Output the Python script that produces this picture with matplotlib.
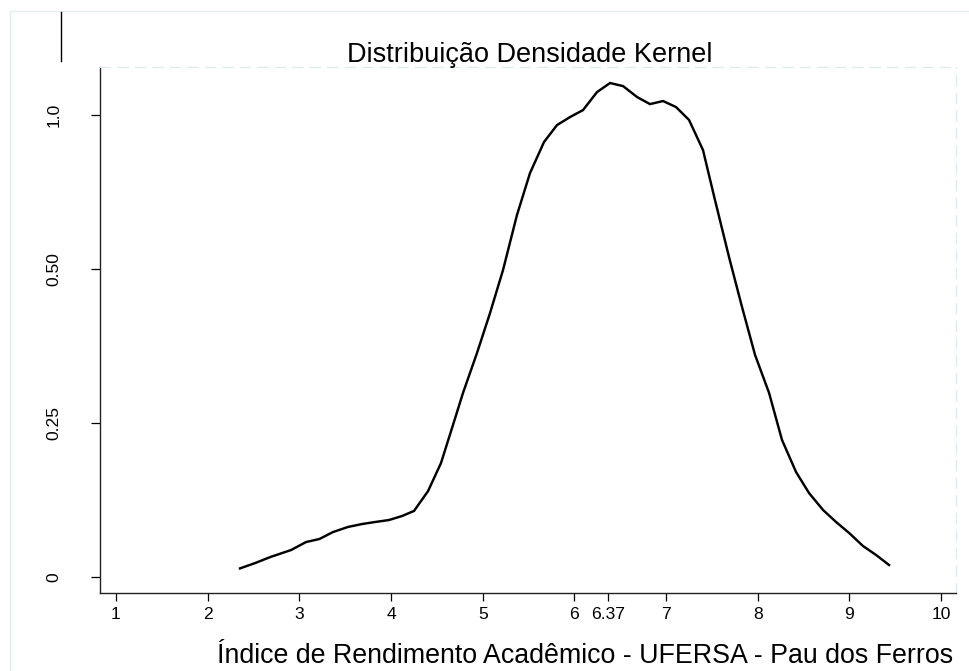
import matplotlib
matplotlib.use("Agg")
import matplotlib.pyplot as plt
from matplotlib.lines import Line2D

plt.rcParams['font.family'] = ['Liberation Sans', 'DejaVu Sans']

# Kernel density estimate
ira = [2.353, 2.52, 2.685, 2.909, 3.073, 3.220, 3.367, 3.531, 3.684, 3.825,
       3.978, 4.120, 4.251, 4.404, 4.545, 4.676, 4.785, 4.938, 5.080, 5.222,
       5.374, 5.516, 5.669, 5.811, 5.953, 6.094, 6.247, 6.389, 6.531, 6.684,
       6.825, 6.967, 7.109, 7.251, 7.403, 7.534, 7.687, 7.829, 7.971, 8.124,
       8.265, 8.418, 8.560, 8.713, 8.855, 8.997, 9.149, 9.291, 9.433]
density = [0.0056, 0.0091, 0.0130, 0.0175, 0.0227, 0.0247, 0.0292, 0.0325, 0.0344, 0.0357,
           0.0370, 0.0396, 0.0429, 0.0558, 0.0740, 0.0987, 0.1195, 0.1455, 0.1714, 0.1994,
           0.2351, 0.2623, 0.2825, 0.2935, 0.2987, 0.3032, 0.3149, 0.3208, 0.3188, 0.3117,
           0.3071, 0.3091, 0.3052, 0.2968, 0.2773, 0.2448, 0.2078, 0.1753, 0.1442, 0.1195,
           0.0890, 0.0682, 0.0545, 0.0435, 0.0357, 0.0286, 0.0201, 0.0143, 0.0078]

x_ticks = [1, 2, 3, 4, 5, 6, 6.37, 7, 8, 9, 10]
x_labels = ["1", "2", "3", "4", "5", "6", "6.37", "7", "8", "9", "10"]
y_ticks = [0, 0.1, 0.2, 0.3]
y_labels = ["0", "0.25", "0.50", "1.0"]

title = "Distribuição Densidade Kernel"
xlabel = "Índice de Rendimento Acadêmico - UFERSA - Pau dos Ferros"

W, H = 969, 671
fig = plt.figure(figsize=(W / 100, H / 100), dpi=100)
fig.patch.set_facecolor('white')

L, R, T, B = 100, 956, 67, 593
ax = fig.add_axes([L / W, 1 - B / H, (R - L) / W, (B - T) / H])
ax.plot(ira, density, color='black', lw=1.75, solid_joinstyle='miter')

ax.set_xlim(0.8255, 10.163)
ax.set_ylim(-0.01039, 0.3312)

ax.set_xticks(x_ticks)
ax.set_xticklabels(x_labels)
ax.set_yticks(y_ticks)
ax.set_yticklabels(y_labels, rotation=90, va='center')

ax.tick_params(axis='x', direction='out', length=5.8, width=0.9, pad=4, labelsize=12.6, colors='black')
ax.tick_params(axis='y', direction='out', length=6.5, width=0.9, pad=21, labelsize=12.6, colors='black')

for s in ['left', 'bottom']:
    ax.spines[s].set_color('#222222')
    ax.spines[s].set_linewidth(1.0)
for s in ['top', 'right']:
    ax.spines[s].set_color('#dfeaee')
    ax.spines[s].set_linewidth(0.9)
    ax.spines[s].set_linestyle((0, (8, 6)))

# title and x label
fig.text(530 / W, 1 - 62 / H, title, ha='center', va='baseline', fontsize=19.5, color='black')
fig.text(585 / W, 1 - 663 / H, xlabel, ha='center', va='baseline', fontsize=19.3, color='black')

# outer frame
fig.add_artist(Line2D([10 / W, 10 / W], [1 - 11 / H, 0], color='#e3ecef', lw=1.0, transform=fig.transFigure))
fig.add_artist(Line2D([10 / W, 968 / W], [1 - 11 / H, 1 - 11 / H], color='#e3ecef', lw=1.0, transform=fig.transFigure))
# small vertical line at top-left
fig.add_artist(Line2D([61 / W, 61 / W], [1 - 12 / H, 1 - 61 / H], color='black', lw=1.0, transform=fig.transFigure))

fig.savefig("out.png", dpi=100)
